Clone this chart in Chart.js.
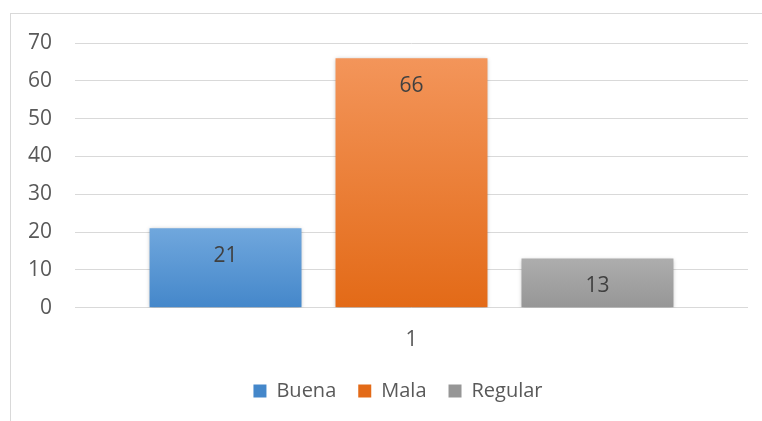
<!DOCTYPE html>
<html>
<head>
<meta charset="utf-8">
<script src="https://cdn.jsdelivr.net/npm/chart.js@4/dist/chart.umd.min.js"></script>
<style>
html,body{margin:0;padding:0;background:#fff;width:762px;height:421px;overflow:hidden;}
#frame{position:absolute;left:10px;top:13px;width:800px;height:500px;border:1px solid #d9d9d9;box-sizing:border-box;}
#wrap{position:absolute;left:0;top:0;width:762px;height:421px;}
</style>
</head>
<body>
<div id="frame"></div>
<div id="wrap"><canvas id="c" width="762" height="421"></canvas></div>
<script>
const categories = ["1"];
const seriesNames = ["Buena", "Mala", "Regular"];
const buenaValues = [21];
const malaValues = [66];
const regularValues = [13];
const yTicks = [0, 10, 20, 30, 40, 50, 60, 70];

const FONT = "'Open Sans', 'Liberation Sans', sans-serif";
const gradColors = [
  ["#70a7dd", "#4487ca"],
  ["#f3955a", "#e36a17"],
  ["#adadad", "#969696"]
];

function gradFill(i) {
  return function(ctx) {
    const chart = ctx.chart;
    if (ctx.type !== 'data' || !chart.scales || !chart.scales.y) return gradColors[i][1];
    const y = chart.scales.y;
    const top = y.getPixelForValue(ctx.raw);
    const bot = y.getPixelForValue(0);
    if (!isFinite(top) || !isFinite(bot) || top === bot) return gradColors[i][1];
    const g = chart.ctx.createLinearGradient(0, top, 0, bot);
    g.addColorStop(0, gradColors[i][0]);
    g.addColorStop(1, gradColors[i][1]);
    return g;
  };
}

const shadowPlugin = {
  id: 'shadow',
  afterLayout(chart) {
    if (chart.legend) {
      chart.legend.left += 24;
      chart.legend.right += 24;
    }
  },
  beforeDatasetsDraw(chart) {
    const c = chart.ctx;
    c.save();
    c.shadowColor = 'rgba(0,0,0,0.28)';
    c.shadowBlur = 4;
    c.shadowOffsetX = 0;
    c.shadowOffsetY = 1;
  },
  afterDatasetsDraw(chart) {
    chart.ctx.restore();
    const c = chart.ctx;
    c.save();
    c.font = "21px " + FONT;
    c.fillStyle = "#404040";
    c.textAlign = "center";
    c.textBaseline = "middle";
    chart.data.datasets.forEach((ds, di) => {
      const meta = chart.getDatasetMeta(di);
      meta.data.forEach((bar, i) => {
        c.fillText(String(ds.data[i]), bar.x, bar.y + 27.5);
      });
    });
    c.restore();
  }
};

const legendColors = gradColors.map(g => g[1]);

new Chart(document.getElementById('c'), {
  type: 'bar',
  data: {
    labels: categories,
    datasets: [
      { label: seriesNames[0], data: buenaValues, backgroundColor: gradFill(0), borderWidth: 0 },
      { label: seriesNames[1], data: malaValues, backgroundColor: gradFill(1), borderWidth: 0 },
      { label: seriesNames[2], data: regularValues, backgroundColor: gradFill(2), borderWidth: 0 }
    ]
  },
  options: {
    responsive: false,
    animation: false,
    devicePixelRatio: 1,
    categoryPercentage: 0.829,
    barPercentage: 0.817,
    layout: { padding: { top: 43, right: 14, left: 0, bottom: 10 } },
    plugins: {
      tooltip: { enabled: false },
      legend: {
        position: 'bottom',
        labels: {
          font: { size: 20, family: FONT },
          color: '#595959',
          boxWidth: 13,
          boxHeight: 13,
          padding: 22,
          generateLabels(chart) {
            return chart.data.datasets.map((ds, i) => ({
              text: ds.label,
              fillStyle: legendColors[i],
              strokeStyle: legendColors[i],
              lineWidth: 0,
              hidden: false,
              datasetIndex: i,
              fontColor: '#595959'
            }));
          }
        }
      }
    },
    scales: {
      x: {
        grid: { display: false },
        border: { display: false },
        afterFit(scale) { scale.height -= 6; },
        ticks: { font: { size: 21, family: FONT }, color: '#595959', padding: 12 }
      },
      y: {
        min: 0,
        max: 70,
        afterBuildTicks(scale) { scale.ticks = yTicks.map(v => ({ value: v })); },
        afterFit(scale) { scale.width = 75; },
        grid: { color: '#d9d9d9', lineWidth: 1, drawTicks: false },
        border: { display: false },
        ticks: { font: { size: 21, family: FONT }, color: '#595959', padding: 23 }
      }
    }
  },
  plugins: [shadowPlugin]
});
</script>
</body>
</html>
